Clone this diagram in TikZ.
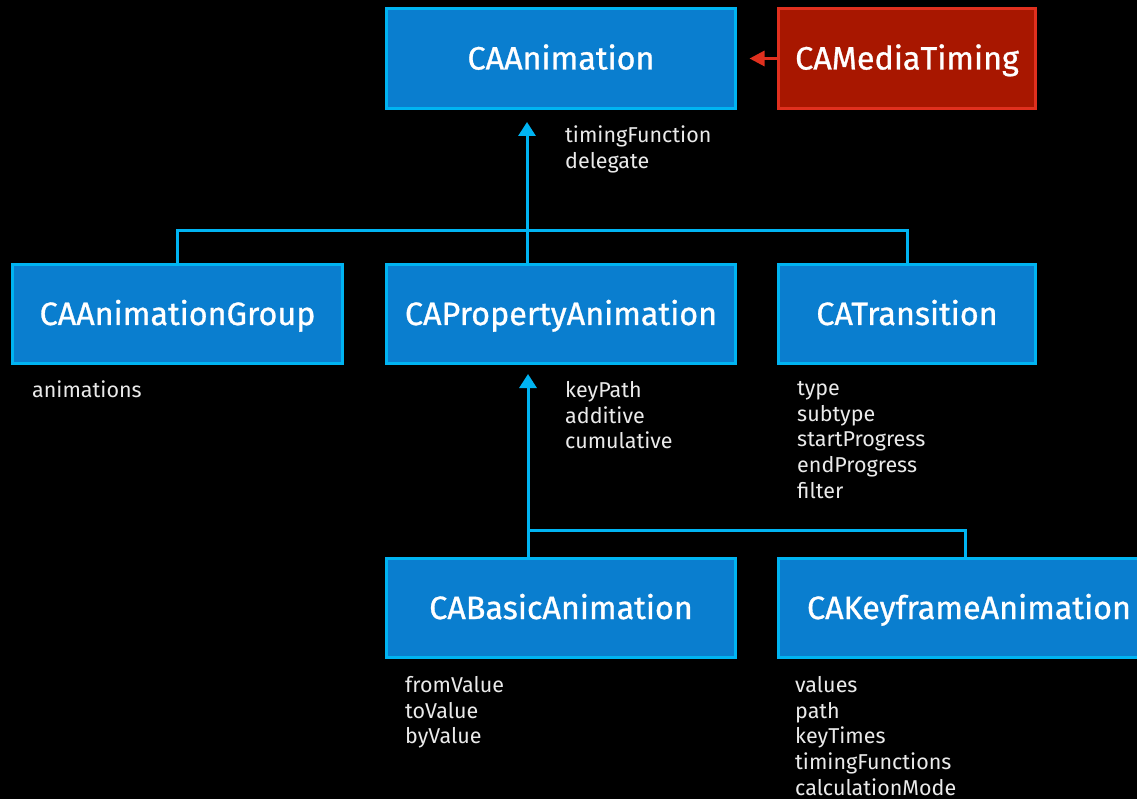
\documentclass[tikz,border=0pt]{standalone}
\usepackage{fontspec}
\setmainfont{Fira Sans}
\newfontfamily\titlefont[FakeBold=0.9]{Fira Sans}
\usetikzlibrary{arrows.meta,calc}
\definecolor{boxfill}{HTML}{0A7ECF}
\definecolor{boxedge}{HTML}{00B4F2}
\definecolor{protofill}{HTML}{A81700}
\definecolor{protoedge}{HTML}{E0301E}
\definecolor{labeltext}{HTML}{EAEAEA}
\tikzset{
  classbox/.style={draw=boxedge, fill=boxfill, line width=3pt, text=white,
    font=\titlefont\fontsize{32.3}{36}\selectfont, minimum height=100pt, inner sep=0pt,
    text height=22pt, text depth=0pt},
  protobox/.style={classbox, draw=protoedge, fill=protofill},
  proplist/.style={anchor=north west, align=left, text=labeltext, inner sep=0pt,
    font=\fontsize{21.5}{25.7}\selectfont},
  link/.style={draw=boxedge, line width=3pt},
  inherit/.style={link, -{Triangle[width=17pt,length=14pt]}},
  conform/.style={draw=protoedge, line width=3pt, -{Triangle[width=15pt,length=15pt]}},
}
\begin{document}
\begin{tikzpicture}[x=1pt,y=-1pt]
\useasboundingbox (0,0) rectangle (1137,799);
\fill[black] (0,0) rectangle (1137,799);

% class boxes
\node[classbox, minimum width=349pt] (anim)  at (561,58.5)  {CAAnimation};
\node[protobox, minimum width=257pt] (media) at (907,58.5)  {CAMediaTiming};
\node[classbox, minimum width=330pt, minimum height=99pt] (group) at (177.5,314) {CAAnimationGroup};
\node[classbox, minimum width=349pt, minimum height=99pt] (prop)  at (561,314)   {CAPropertyAnimation};
\node[classbox, minimum width=257pt, minimum height=99pt] (trans) at (907,314)   {CATransition};
\node[classbox, minimum width=349pt, minimum height=99pt] (basic) at (561,608)   {CABasicAnimation};
\node[classbox, minimum width=381pt, minimum height=99pt] (key)   at (969,608)   {CAKeyframeAnimation};

% junctions of the inheritance trees
\coordinate (j1) at (527,231);
\coordinate (j2) at (528,530);
\coordinate (k1) at (965,530);

% connectors
\draw[conform, shorten >=12.5pt] (media.west) -- (anim.east);
\draw[link] (group.north) |- (j1) -| (trans.north);
\draw[link] (prop.north -| j1) -- (j1);
\draw[inherit, shorten >=12pt] (j1) -- (anim.south -| j1);
\draw[link] (basic.north -| j2) -- (j2) -- (k1) -- (key.north -| k1);
\draw[inherit, shorten >=9pt] (j2) -- (prop.south -| j2);

% property lists
\node[proplist] (animprops)  at (565,126) {timingFunction\\delegate};
\node[proplist] (groupprops) at (32,381)  {animations};
\node[proplist] (propprops)  at (565,381) {keyPath\\additive\\cumulative};
\node[proplist] (transprops) at (797,381) {type\\subtype\\startProgress\\endProgress\\filter};
\node[proplist] (basicprops) at (405,676) {fromValue\\toValue\\byValue};
\node[proplist] (keyprops)   at (795,676) {values\\path\\keyTimes\\timingFunctions\\calculationMode};
\end{tikzpicture}
\end{document}
